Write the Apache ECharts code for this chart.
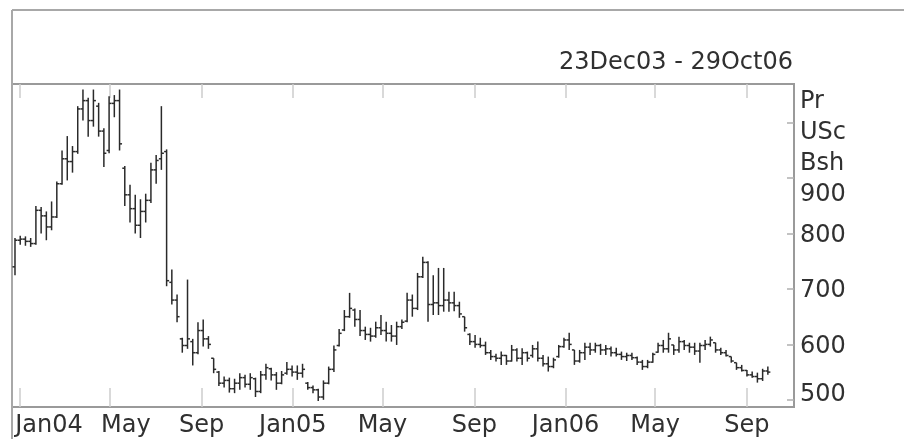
<!DOCTYPE html>
<html>
<head>
<meta charset="utf-8">
<script src="https://cdn.jsdelivr.net/npm/echarts@6/dist/echarts.min.js"></script>
<style>html,body{margin:0;padding:0;background:#fff;}#c{width:904px;height:439px;}</style>
</head>
<body>
<div id="c"></div>
<script>
// Weekly OHLC bars, US cents per bushel
const firstWeek = Date.UTC(2003, 11, 26);
const opens = [740,788,790,786,782,842,832,812,830,890,935,930,948,1025,1040,1004,1030,985,950,1035,1040,
918,870,845,815,840,860,915,935,948,712,680,610,598,605,585,625,610,575,550,530,535,520,530,540,528,538,515,545,556,545,530,548,555,550,548,
530,522,518,505,530,555,598,626,650,662,645,625,618,615,630,625,620,615,632,642,680,665,722,748,672,675,670,680,675,670,650,618,605,600,598,585,578,575,580,570,590,575,585,580,592,575,565,560,578,596,608,
590,570,585,595,590,598,590,592,585,582,578,580,576,568,560,568,586,598,592,599,590,605,598,595,588,598,600,603,590,585,578,567,558,553,545,542,538,552];
const highs = [792,796,795,792,850,848,840,858,894,950,976,958,1030,1060,1045,1060,1036,990,1048,1050,1060,
922,888,870,862,872,928,942,1030,952,735,690,612,717,610,640,645,615,575,552,542,540,538,548,545,548,540,552,565,558,550,552,568,562,562,565,
532,526,520,535,560,598,628,662,693,665,662,632,630,641,653,641,635,641,645,693,690,729,758,750,725,738,738,695,695,677,650,620,617,612,605,590,583,587,581,599,593,593,587,599,605,581,578,576,599,612,621,
590,590,603,603,603,601,599,596,594,587,585,585,578,572,572,585,603,608,621,599,614,608,603,603,603,608,614,603,594,590,578,567,563,554,551,549,556,560];
const lows = [725,780,778,776,780,800,788,806,828,888,896,910,944,1004,975,993,975,920,945,1010,950,
850,820,800,792,820,855,890,915,705,672,640,585,592,562,582,596,592,548,525,522,513,512,518,522,518,505,512,536,535,518,528,545,542,536,540,
518,512,498,500,528,550,596,624,648,632,615,608,605,612,617,605,605,599,628,640,650,662,720,641,653,653,659,659,660,648,623,599,594,594,581,572,569,563,563,569,569,563,569,576,569,560,551,557,576,594,590,
563,567,572,581,585,581,581,578,578,572,570,572,563,554,557,567,585,585,585,581,585,590,585,581,567,590,596,585,581,578,567,554,551,542,540,531,534,545];
const closes = [788,790,786,782,842,832,812,830,890,935,930,948,1025,1040,1004,1040,985,945,1035,1040,962,
870,845,815,840,860,915,932,945,715,680,650,598,610,585,625,610,600,555,530,535,520,530,540,528,540,515,545,558,545,530,545,555,550,548,555,
522,518,505,530,555,590,620,650,665,645,625,618,615,630,625,620,615,632,640,680,665,722,748,672,675,670,680,675,670,655,630,605,600,598,585,578,575,580,570,590,575,585,575,592,575,565,560,572,596,608,600,
570,585,595,590,598,590,592,585,582,578,580,576,568,560,568,582,598,592,610,590,605,598,595,588,598,600,608,590,585,580,570,558,553,545,542,538,552,550];

const monthTicks = ['2004-01-01','2004-05-01','2004-09-01','2005-01-01','2005-05-01','2005-09-01','2006-01-01','2006-05-01','2006-09-01'];
const monthLabels = ['Jan04','May','Sep','Jan05','May','Sep','Jan06','May','Sep'];
const priceTicks = [500,600,700,800,900,1000];
const priceLabels = [500,600,700,800,900];
const unitLines = ['Pr','USc','Bsh'];
const rangeText = '23Dec03 - 29Oct06';

const WEEK = 7 * 86400000;
const data = opens.map((o, i) => [firstWeek + i * WEEK, o, highs[i], lows[i], closes[i]]);
const tickTs = monthTicks.map(s => Date.parse(s + 'T00:00:00Z'));
const labelOf = {};
tickTs.forEach((t, i) => { labelOf[t] = monthLabels[i]; });

const FONT = 'DejaVu Sans';
const FS = 24;
const TXT = '#303030';
const xMin = Date.UTC(2003, 11, 22);
const xMax = Date.UTC(2006, 10, 3);

const chart = echarts.init(document.getElementById('c'), null, {renderer: 'canvas'});
chart.setOption({
  animation: false,
  backgroundColor: '#fff',
  grid: {left: 12, top: 84, right: 110, bottom: 32, show: true, borderColor: '#9a9a9a', borderWidth: 2,
         backgroundColor: 'transparent', containLabel: false, outerBoundsMode: 'none'},
  xAxis: [{
    type: 'value', min: xMin, max: xMax, position: 'bottom',
    axisLine: {show: false},
    splitLine: {show: false},
    axisTick: {show: true, inside: true, length: 19, customValues: tickTs, lineStyle: {color: '#cdcdcd', width: 1.5}},
    axisLabel: {
      show: true, customValues: tickTs, margin: 7, color: TXT, fontFamily: FONT, fontSize: FS,
      formatter: function (v) {
        const t = labelOf[v];
        const idx = tickTs.indexOf(v);
        if (idx === 0) return '{a|' + t + '}';
        if (idx === 1) return '{b|' + t + '}';
        return t;
      },
      rich: {
        a: {padding: [0, 0, 0, 59], fontFamily: FONT, fontSize: FS, color: TXT},
        b: {padding: [0, 0, 0, 32], fontFamily: FONT, fontSize: FS, color: TXT}
      }
    }
  }, {
    type: 'value', min: xMin, max: xMax, position: 'top',
    axisLine: {show: false}, splitLine: {show: false},
    axisTick: {show: true, inside: true, length: 14, customValues: tickTs, lineStyle: {color: '#cdcdcd', width: 1.5}},
    axisLabel: {show: false}
  }],
  yAxis: {
    type: 'value', min: 487, max: 1070, position: 'right',
    axisLine: {show: false}, splitLine: {show: false},
    axisTick: {show: true, inside: true, length: 7, customValues: priceTicks, lineStyle: {color: '#b0b0b0', width: 1.5}},
    axisLabel: {
      show: true, customValues: priceLabels, margin: 6, color: TXT, fontFamily: FONT, fontSize: FS,
      formatter: function (v) {
        if (v === 500) return '{lo|' + v + '}';
        if (v === 900) return '{hi|' + v + '}';
        return '{n|' + v + '}';
      },
      rich: {
        n: {padding: [4, 0, 0, 0], fontFamily: FONT, fontSize: FS, color: TXT},
        lo: {padding: [0, 0, 10, 0], fontFamily: FONT, fontSize: FS, color: TXT},
        hi: {padding: [34, 0, 0, 0], fontFamily: FONT, fontSize: FS, color: TXT}
      }
    }
  },
  graphic: [
    {type: 'line', silent: true, shape: {x1: 12, y1: 10, x2: 904, y2: 10}, style: {stroke: '#a8a8a8', lineWidth: 2}},
    {type: 'line', silent: true, shape: {x1: 12, y1: 10, x2: 12, y2: 439}, style: {stroke: '#a8a8a8', lineWidth: 2}},
    {type: 'text', silent: true, style: {text: rangeText, x: 793, y: 63, align: 'right', verticalAlign: 'middle', font: FS + 'px "DejaVu Sans"', fill: TXT}},
    {type: 'text', silent: true, style: {text: unitLines[0], x: 800, y: 102, align: 'left', verticalAlign: 'middle', font: FS + 'px "DejaVu Sans"', fill: TXT}},
    {type: 'text', silent: true, style: {text: unitLines[1], x: 800, y: 133, align: 'left', verticalAlign: 'middle', font: FS + 'px "DejaVu Sans"', fill: TXT}},
    {type: 'text', silent: true, style: {text: unitLines[2], x: 800, y: 164, align: 'left', verticalAlign: 'middle', font: FS + 'px "DejaVu Sans"', fill: TXT}}
  ],
  series: [{
    type: 'custom',
    xAxisIndex: 0, yAxisIndex: 0,
    data: data,
    encode: {x: 0, y: [1, 2, 3, 4]},
    renderItem: function (params, api) {
      const t = api.value(0);
      const o = api.coord([t, api.value(1)]);
      const h = api.coord([t, api.value(2)]);
      const l = api.coord([t, api.value(3)]);
      const c = api.coord([t, api.value(4)]);
      const w = 2.5;
      const st = {stroke: '#2a2a2a', lineWidth: 1.5};
      return {type: 'group', children: [
        {type: 'line', shape: {x1: h[0], y1: h[1], x2: l[0], y2: l[1]}, style: st},
        {type: 'line', shape: {x1: o[0] - w, y1: o[1], x2: o[0], y2: o[1]}, style: st},
        {type: 'line', shape: {x1: c[0], y1: c[1], x2: c[0] + w, y2: c[1]}, style: st}
      ]};
    }
  }]
});
</script>
</body>
</html>
